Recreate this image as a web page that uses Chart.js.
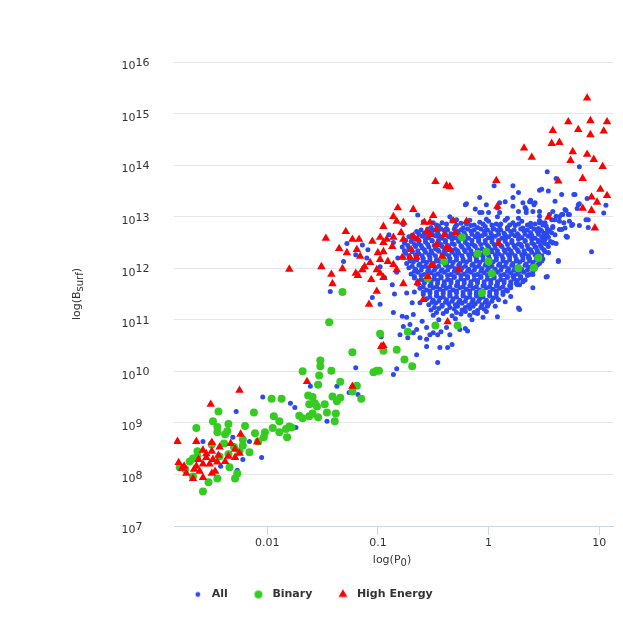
<!DOCTYPE html>
<html><head><meta charset="utf-8">
<script src="https://cdn.jsdelivr.net/npm/chart.js@4.4.1/dist/chart.umd.min.js"></script>
<style>html,body{margin:0;padding:0;background:#fff;overflow:hidden}canvas{display:block}</style>
</head><body>
<canvas id="c" width="623" height="623"></canvas>
<script>
// ---- data (log10 values: [log10 P0, log10 Bsurf]) ----
const seriesNames = ['All', 'Binary', 'High Energy'];
const xTickValues = [0.01, 0.1, 1, 10];
const xTickLabels = ['0.01', '0.1', '1', '10'];
const yTickValues = [1e7, 1e8, 1e9, 1e10, 1e11, 1e12, 1e13, 1e14, 1e15, 1e16];
const yTickExponents = ['7', '8', '9', '10', '11', '12', '13', '14', '15', '16'];

const allPts = [
[-0.42,12.88],[-0.33,12.92],[-0.25,12.87],[-0.17,12.93],[-0.08,12.89],[0.0,12.91],[0.07,12.86],[0.15,12.93],[0.22,12.88],[0.3,12.91],[0.38,12.87],[0.46,12.92],
[-0.47,12.84],[-0.38,12.86],[-0.29,12.84],[-0.2,12.86],[-0.13,12.84],[-0.05,12.86],[0.03,12.84],[0.11,12.86],[0.19,12.84],[0.27,12.86],[0.35,12.84],[0.42,12.86],[0.49,12.84],
[-0.52,12.79],[-0.45,12.82],[-0.38,12.77],[-0.3,12.81],[-0.23,12.78],[-0.16,12.83],[-0.1,12.79],[-0.03,12.81],[0.04,12.77],[0.1,12.82],[0.17,12.79],[0.24,12.83],[0.31,12.78],[0.38,12.81],[0.45,12.77],[0.52,12.82],
[-0.61,12.74],[-0.55,12.76],[-0.49,12.74],[-0.43,12.76],[-0.37,12.74],[-0.31,12.76],[-0.25,12.74],[-0.19,12.76],[-0.13,12.74],[-0.07,12.76],[-0.01,12.74],[0.05,12.76],[0.11,12.74],[0.17,12.76],[0.23,12.74],[0.29,12.76],[0.35,12.74],[0.41,12.76],[0.47,12.74],[0.53,12.76],
[-0.65,12.71],[-0.58,12.68],[-0.52,12.72],[-0.46,12.69],[-0.4,12.73],[-0.34,12.67],[-0.28,12.71],[-0.22,12.69],[-0.16,12.72],[-0.1,12.67],[-0.04,12.71],[0.02,12.69],[0.08,12.73],[0.14,12.68],[0.2,12.71],[0.26,12.67],[0.32,12.72],[0.38,12.69],[0.44,12.71],[0.5,12.68],[0.55,12.73],
[-0.69,12.64],[-0.63,12.66],[-0.57,12.64],[-0.51,12.66],[-0.45,12.64],[-0.39,12.66],[-0.33,12.64],[-0.27,12.66],[-0.21,12.64],[-0.15,12.66],[-0.09,12.64],[-0.03,12.66],[0.03,12.64],[0.09,12.66],[0.15,12.64],[0.21,12.66],[0.27,12.64],[0.33,12.66],[0.39,12.64],[0.45,12.66],[0.51,12.64],
[-0.72,12.61],[-0.66,12.58],[-0.6,12.62],[-0.54,12.59],[-0.48,12.63],[-0.42,12.58],[-0.36,12.61],[-0.3,12.59],[-0.24,12.62],[-0.18,12.58],[-0.12,12.61],[-0.06,12.63],[0.0,12.59],[0.06,12.62],[0.12,12.58],[0.18,12.61],[0.24,12.63],[0.3,12.59],[0.36,12.62],[0.42,12.58],[0.48,12.61],[0.54,12.6],
[-0.75,12.54],[-0.69,12.56],[-0.63,12.54],[-0.57,12.56],[-0.51,12.54],[-0.45,12.56],[-0.39,12.54],[-0.33,12.56],[-0.27,12.54],[-0.21,12.56],[-0.15,12.54],[-0.09,12.56],[-0.03,12.54],[0.03,12.56],[0.09,12.54],[0.15,12.56],[0.21,12.54],[0.27,12.56],[0.33,12.54],[0.39,12.56],[0.45,12.54],[0.51,12.56],
[-0.76,12.49],[-0.7,12.52],[-0.63,12.48],[-0.57,12.51],[-0.51,12.53],[-0.45,12.49],[-0.39,12.51],[-0.33,12.48],[-0.27,12.52],[-0.21,12.5],[-0.15,12.47],[-0.09,12.52],[-0.03,12.49],[0.03,12.51],[0.09,12.48],[0.15,12.52],[0.21,12.5],[0.27,12.47],[0.33,12.52],[0.39,12.49],[0.45,12.51],[0.51,12.48],[0.56,12.52],
[-0.73,12.44],[-0.67,12.46],[-0.61,12.44],[-0.55,12.46],[-0.49,12.44],[-0.43,12.46],[-0.37,12.44],[-0.31,12.46],[-0.25,12.44],[-0.19,12.46],[-0.13,12.44],[-0.07,12.46],[-0.01,12.44],[0.05,12.46],[0.11,12.44],[0.17,12.46],[0.23,12.44],[0.29,12.46],[0.35,12.44],[0.41,12.46],[0.47,12.44],[0.53,12.46],
[-0.78,12.41],[-0.72,12.38],[-0.66,12.42],[-0.6,12.39],[-0.54,12.41],[-0.48,12.38],[-0.42,12.42],[-0.36,12.4],[-0.3,12.37],[-0.24,12.41],[-0.18,12.39],[-0.12,12.42],[-0.06,12.38],[0.0,12.41],[0.06,12.39],[0.12,12.42],[0.18,12.38],[0.24,12.4],[0.3,12.42],[0.36,12.38],[0.42,12.41],[0.48,12.39],[0.54,12.42],
[-0.76,12.34],[-0.7,12.36],[-0.64,12.34],[-0.58,12.36],[-0.52,12.34],[-0.46,12.36],[-0.4,12.34],[-0.34,12.36],[-0.28,12.34],[-0.22,12.36],[-0.16,12.34],[-0.1,12.36],[-0.04,12.34],[0.02,12.36],[0.08,12.34],[0.14,12.36],[0.2,12.34],[0.26,12.36],[0.32,12.34],[0.38,12.36],[0.44,12.34],[0.5,12.36],
[-0.75,12.29],[-0.69,12.32],[-0.63,12.28],[-0.57,12.31],[-0.51,12.29],[-0.45,12.33],[-0.39,12.28],[-0.33,12.31],[-0.27,12.29],[-0.21,12.32],[-0.15,12.28],[-0.09,12.31],[-0.03,12.29],[0.03,12.32],[0.09,12.28],[0.15,12.31],[0.21,12.29],[0.27,12.32],[0.33,12.28],[0.39,12.31],[0.45,12.29],[0.51,12.32],
[-0.72,12.24],[-0.66,12.26],[-0.6,12.24],[-0.54,12.26],[-0.48,12.24],[-0.42,12.26],[-0.36,12.24],[-0.3,12.26],[-0.24,12.24],[-0.18,12.26],[-0.12,12.24],[-0.06,12.26],[0.0,12.24],[0.06,12.26],[0.12,12.24],[0.18,12.26],[0.24,12.24],[0.3,12.26],[0.36,12.24],[0.42,12.26],[0.48,12.24],
[-0.77,12.21],[-0.71,12.18],[-0.65,12.22],[-0.59,12.19],[-0.53,12.21],[-0.47,12.17],[-0.41,12.21],[-0.35,12.19],[-0.29,12.22],[-0.23,12.18],[-0.17,12.21],[-0.11,12.19],[-0.05,12.22],[0.01,12.18],[0.07,12.21],[0.13,12.19],[0.19,12.22],[0.25,12.18],[0.31,12.21],[0.37,12.19],[0.43,12.22],[0.49,12.18],
[-0.71,12.14],[-0.65,12.16],[-0.59,12.14],[-0.53,12.16],[-0.47,12.14],[-0.41,12.16],[-0.35,12.14],[-0.29,12.16],[-0.23,12.14],[-0.17,12.16],[-0.11,12.14],[-0.05,12.16],[0.01,12.14],[0.07,12.16],[0.13,12.14],[0.19,12.16],[0.25,12.14],[0.31,12.16],[0.37,12.14],[0.43,12.16],[0.48,12.14],
[-0.74,12.09],[-0.68,12.12],[-0.62,12.08],[-0.56,12.11],[-0.5,12.09],[-0.44,12.13],[-0.38,12.08],[-0.32,12.11],[-0.26,12.09],[-0.2,12.12],[-0.14,12.08],[-0.08,12.11],[-0.02,12.09],[0.04,12.12],[0.1,12.08],[0.16,12.11],[0.22,12.09],[0.28,12.12],[0.34,12.08],[0.4,12.11],[0.46,12.09],
[-0.69,12.04],[-0.63,12.06],[-0.57,12.04],[-0.51,12.06],[-0.45,12.04],[-0.39,12.06],[-0.33,12.04],[-0.27,12.06],[-0.21,12.04],[-0.15,12.06],[-0.09,12.04],[-0.03,12.06],[0.03,12.04],[0.09,12.06],[0.15,12.04],[0.21,12.06],[0.27,12.04],[0.33,12.06],[0.39,12.04],[0.44,12.06],
[-0.72,12.01],[-0.66,11.98],[-0.6,12.02],[-0.54,11.99],[-0.48,12.01],[-0.42,11.97],[-0.36,12.02],[-0.3,11.99],[-0.24,12.01],[-0.18,11.98],[-0.12,12.02],[-0.06,11.99],[0.0,12.01],[0.06,11.98],[0.12,12.02],[0.18,11.99],[0.24,12.01],[0.3,11.98],[0.36,12.02],[0.42,11.99],
[-0.67,11.94],[-0.61,11.96],[-0.55,11.94],[-0.49,11.96],[-0.43,11.94],[-0.37,11.96],[-0.31,11.94],[-0.25,11.96],[-0.19,11.94],[-0.13,11.96],[-0.07,11.94],[-0.01,11.96],[0.05,11.94],[0.11,11.96],[0.17,11.94],[0.23,11.96],[0.29,11.94],[0.35,11.96],[0.4,11.94],
[-0.7,11.89],[-0.64,11.92],[-0.58,11.88],[-0.52,11.91],[-0.46,11.89],[-0.4,11.92],[-0.34,11.88],[-0.28,11.91],[-0.22,11.89],[-0.16,11.92],[-0.1,11.88],[-0.04,11.91],[0.02,11.89],[0.08,11.92],[0.14,11.88],[0.2,11.91],[0.26,11.89],[0.32,11.92],[0.37,11.88],
[-0.67,11.84],[-0.61,11.86],[-0.55,11.84],[-0.49,11.86],[-0.43,11.84],[-0.37,11.86],[-0.31,11.84],[-0.25,11.86],[-0.19,11.84],[-0.13,11.86],[-0.07,11.84],[-0.01,11.86],[0.05,11.84],[0.11,11.86],[0.17,11.84],[0.23,11.86],[0.29,11.84],[0.35,11.86],
[-0.67,11.81],[-0.61,11.78],[-0.55,11.82],[-0.49,11.79],[-0.43,11.81],[-0.37,11.78],[-0.31,11.82],[-0.25,11.79],[-0.19,11.81],[-0.13,11.78],[-0.07,11.82],[-0.01,11.79],[0.05,11.81],[0.11,11.78],[0.17,11.82],[0.23,11.79],[0.29,11.81],[0.33,11.77],
[-0.64,11.74],[-0.58,11.76],[-0.52,11.74],[-0.46,11.76],[-0.4,11.74],[-0.34,11.76],[-0.28,11.74],[-0.22,11.76],[-0.16,11.74],[-0.1,11.76],[-0.04,11.74],[0.02,11.76],[0.08,11.74],[0.14,11.76],[0.2,11.74],[0.26,11.76],
[-0.64,11.69],[-0.58,11.72],[-0.52,11.68],[-0.46,11.71],[-0.4,11.69],[-0.34,11.72],[-0.28,11.68],[-0.22,11.71],[-0.16,11.69],[-0.1,11.72],[-0.04,11.68],[0.02,11.71],[0.08,11.69],[0.14,11.72],[0.2,11.68],[0.25,11.71],
[-0.59,11.64],[-0.53,11.66],[-0.47,11.64],[-0.41,11.66],[-0.35,11.64],[-0.29,11.66],[-0.23,11.64],[-0.17,11.66],[-0.11,11.64],[-0.05,11.66],[0.01,11.64],[0.07,11.66],[0.13,11.64],[0.19,11.66],
[-0.62,11.61],[-0.56,11.58],[-0.5,11.62],[-0.44,11.59],[-0.38,11.61],[-0.32,11.58],[-0.26,11.62],[-0.2,11.59],[-0.14,11.61],[-0.08,11.58],[-0.02,11.62],[0.04,11.59],[0.1,11.61],[0.16,11.58],[0.2,11.62],
[-0.59,11.54],[-0.53,11.56],[-0.47,11.54],[-0.41,11.56],[-0.35,11.54],[-0.29,11.56],[-0.23,11.54],[-0.17,11.56],[-0.11,11.54],[-0.05,11.56],[0.01,11.54],[0.07,11.56],[0.13,11.54],[0.17,11.56],
[-0.59,11.49],[-0.53,11.52],[-0.47,11.48],[-0.41,11.51],[-0.35,11.49],[-0.29,11.52],[-0.23,11.48],[-0.17,11.51],[-0.11,11.49],[-0.05,11.52],[0.01,11.48],[0.07,11.51],[0.13,11.49],
[-0.53,11.44],[-0.47,11.46],[-0.41,11.44],[-0.35,11.46],[-0.29,11.44],[-0.23,11.46],[-0.17,11.44],[-0.11,11.46],[-0.05,11.44],[0.01,11.46],[0.07,11.44],
[-0.56,11.41],[-0.5,11.38],[-0.44,11.42],[-0.38,11.39],[-0.32,11.41],[-0.26,11.38],[-0.2,11.42],[-0.14,11.39],[-0.08,11.41],[-0.02,11.38],[0.04,11.42],[0.09,11.39],
[-0.51,11.34],[-0.45,11.36],[-0.39,11.34],[-0.33,11.36],[-0.27,11.34],[-0.21,11.36],[-0.15,11.34],[-0.09,11.36],[-0.03,11.34],[0.03,11.36],
[-0.54,11.29],[-0.48,11.32],[-0.42,11.28],[-0.36,11.31],[-0.3,11.29],[-0.24,11.32],[-0.18,11.28],[-0.12,11.31],[-0.06,11.29],[0.0,11.31],
[-0.49,11.24],[-0.42,11.26],[-0.35,11.24],[-0.28,11.26],[-0.21,11.24],[-0.14,11.26],[-0.07,11.24],[-0.01,11.26],
[-0.52,11.19],[-0.45,11.22],[-0.38,11.18],[-0.31,11.21],[-0.24,11.19],[-0.17,11.22],[-0.1,11.18],[-0.04,11.21],
[-0.47,11.14],[-0.38,11.16],[-0.29,11.14],[-0.21,11.16],[-0.13,11.14],
[-0.5,11.09],[-0.41,11.12],[-0.33,11.08],[-0.25,11.11],[-0.17,11.09],[-0.1,11.12],
[0.05,13.6],[0.22,13.6],[0.27,13.47],[0.46,13.51],[0.53,13.87],[0.61,13.74],[0.54,13.5],[0.66,13.43],[0.78,13.43],[0.82,13.97],[0.89,13.35],[0.82,13.25],[0.8,13.16],[0.7,13.12],[0.67,13.04],[0.73,13.04],[0.64,13.0],[0.6,12.94],[0.75,12.83],[0.82,12.83],[0.88,12.94],[0.9,12.79],[0.6,12.65],[0.71,12.61],[0.93,12.32],[0.54,12.3],[0.61,12.48],[0.15,13.29],[0.22,13.37],[0.22,13.2],[0.31,13.27],[0.34,13.14],[0.38,13.29],[0.42,13.27],[0.4,13.1],[0.17,12.97],[0.27,12.97],[0.48,12.88],[0.57,12.94],[0.68,12.88],[0.58,12.79],[0.64,12.75],[0.53,12.69],[0.49,12.56],[0.58,12.5],[0.71,12.6],[0.63,12.13],[0.53,11.84],[0.4,11.62],[0.28,11.68],[0.22,11.84],[1.06,13.22],[1.04,13.07],
[0.77,13.43],[0.48,13.53],[0.38,13.32],[0.41,13.23],[0.33,13.18],[0.34,13.08],[0.6,13.3],[0.69,13.14],[0.66,13.04],[0.61,13.01],[0.72,13.04],[0.64,12.91],[0.73,12.91],[0.76,12.85],[0.81,13.23],[0.9,12.94],[0.69,12.78],[0.66,12.75],[0.7,12.62],[0.58,12.81],[0.57,12.69],[0.52,12.62],[0.48,12.72],[0.49,12.52],[0.58,12.49],[0.43,12.4],[0.54,12.3],[0.63,12.15],[0.36,12.2],[0.4,11.88],[0.52,11.83],[0.46,13.01],[0.46,12.88],[0.51,12.88],[0.55,13.04],[0.58,13.1],
[-0.08,13.37],[-0.21,13.23],[-0.08,13.08],[0.0,13.08],[0.08,13.17],[0.08,13.0],[-0.02,12.95],[-0.35,13.0],[-0.59,12.9],[-0.64,13.03],[-0.2,13.25],[0.37,13.29],[0.46,13.1],[0.1,13.27],[-0.02,13.23],[-0.06,13.08],[0.1,13.08],[-0.29,12.94],[-0.5,12.88],[-0.12,13.15],[0.27,13.1],
[-1.28,12.48],[-1.31,12.13],[-1.09,12.36],[-0.98,12.03],[-0.86,12.5],[-0.77,12.85],[-1.43,11.55],[-1.05,11.43],[-0.98,11.3],[-0.87,11.68],[-0.94,11.82],[-0.83,11.92],[-0.86,11.14],[-0.78,11.07],[-1.14,12.45],[-1.2,12.26],[-0.82,12.2],[-0.85,11.5],[-0.9,12.65],[-1.1,12.2],
[-0.74,11.05],[-0.68,11.1],[0.08,11.06],[-0.02,11.16],[0.06,11.26],[-0.77,10.87],[-0.71,10.91],[-0.65,10.81],[-0.56,10.85],[-0.5,10.75],[-0.38,10.85],[-0.26,10.81],[-0.21,10.83],[-0.19,10.78],[-0.43,10.77],[-0.8,10.71],[-0.73,10.65],[-0.62,10.65],[-0.68,10.75],[-0.56,10.62],[-0.53,10.71],[-0.46,10.71],[-0.35,10.71],[-0.56,10.48],[-0.44,10.46],[-0.37,10.46],[-0.33,10.52],[-0.65,10.32],[-0.46,10.17],[0.28,11.2],[0.26,11.68],[0.31,11.74],[0.27,11.23],[-0.67,11.54],[-0.69,11.33],[-0.62,11.33],[-0.74,11.52],[-0.97,10.67],[-0.45,11.0],[-0.3,11.02],[-0.15,11.0],[-0.6,10.97],[-0.05,11.05],[0.15,11.35],[0.2,11.45],
[-1.24,10.38],[-1.2,10.07],[-0.83,10.05],[-0.86,9.94],[-1.37,9.71],[-1.26,9.59],[-1.18,9.55],[-1.61,9.71],[-1.46,9.03],[-1.75,9.3],[-1.79,9.38],[-2.04,9.5],[-1.74,8.91],[-2.28,9.22],[-2.31,8.72],[-2.16,8.64],[-2.58,8.64],[-2.22,8.29],[-2.05,8.33],[-2.27,8.08],[-2.42,8.16]
];

const binaryPts = [
[-2.44,9.22],[-1.96,9.47],[-1.87,9.47],[-2.49,9.03],[-2.12,9.2],[-1.94,9.13],[-1.89,9.03],[-2.64,8.9],[-2.45,8.92],[-2.35,8.98],[-2.2,8.94],[-1.95,8.9],[-1.83,8.88],[-2.45,8.82],[-2.36,8.84],[-2.38,8.78],[-2.11,8.8],[-2.02,8.82],[-1.89,8.82],[-2.03,8.72],[-2.08,8.64],[-2.22,8.68],[-1.82,8.72],[-2.22,8.56],[-2.16,8.43],[-2.25,8.45],[-2.3,8.53],[-2.39,8.6],[-2.5,8.58],[-2.63,8.45],[-2.67,8.31],[-2.7,8.25],[-2.63,8.35],[-2.43,8.35],[-2.35,8.39],[-2.34,8.14],[-2.27,8.02],[-2.29,7.92],[-2.45,7.92],[-2.53,7.85],[-2.58,7.67],[-2.67,7.96],[-2.74,8.1],[-2.79,8.14],
[-1.32,11.54],[-1.44,10.95],[-0.98,10.73],[-0.95,10.4],[-0.83,10.42],[-1.23,10.37],[-0.76,10.23],[-0.69,10.1],[-1.52,10.21],[-1.52,10.1],[-1.68,10.0],[-1.42,10.01],[-1.04,9.98],[-1.01,10.01],[-0.99,10.01],[-1.53,9.92],[-1.34,9.8],[-1.54,9.74],[-1.19,9.72],[-1.23,9.61],[-1.15,9.47],[-1.63,9.53],[-1.59,9.5],[-1.57,9.38],[-1.62,9.36],[-1.55,9.32],[-1.41,9.51],[-1.34,9.49],[-1.37,9.42],[-1.48,9.36],[-1.46,9.2],[-1.38,9.18],[-1.59,9.18],[-1.62,9.13],[-1.54,9.11],[-1.68,9.09],[-1.71,9.14],[-1.39,9.03],[-1.8,8.93],[-1.78,8.91],
[-0.24,12.6],[-0.1,12.28],[-0.02,12.32],[0.0,12.13],[0.03,11.9],[-0.06,11.52],[-0.4,12.13],[-0.55,11.8],[-0.48,10.89],[-0.28,10.89],[0.45,12.2],[0.27,12.0],[0.41,12.01],[-0.73,10.77]
];

const highEnergyPts = [
[0.89,15.3],[0.72,14.84],[0.92,14.86],[1.07,14.84],[0.58,14.67],[0.81,14.69],[1.04,14.66],[0.92,14.59],[0.57,14.42],[0.64,14.44],[0.32,14.33],[0.39,14.15],[0.76,14.26],[0.74,14.09],[0.89,14.21],[0.95,14.11],[1.03,13.97],[0.85,13.74],[0.63,13.69],[1.01,13.53],[1.07,13.41],[0.93,13.38],[0.98,13.28],[0.85,13.16],[0.93,13.12],[0.54,12.99],[0.96,12.78],
[-0.48,13.68],[-0.38,13.6],[-0.35,13.58],[0.07,13.7],[0.08,13.2],[-0.82,13.17],[-0.68,13.14],[-0.86,13.0],[-0.95,12.81],[-0.83,12.91],[-0.77,12.89],[-0.5,13.02],[-0.58,12.89],[-0.53,12.89],[-0.32,12.92],[-0.2,12.91],
[-1.29,12.71],[-1.47,12.58],[-1.35,12.38],[-1.28,12.3],[-1.23,12.56],[-1.17,12.56],[-1.19,12.36],[-1.16,12.23],[-1.05,12.52],[-0.98,12.6],[-0.95,12.5],[-0.92,12.56],[-1.0,12.3],[-0.95,12.32],[-0.87,12.42],[-0.86,12.6],[-0.79,12.69],[-0.77,12.56],[-0.7,12.36],[-0.68,12.62],[-0.64,12.56],[-0.56,12.71],[-0.53,12.65],[-0.47,12.75],[-0.4,12.65],[-0.3,12.69],[-0.47,12.46],[-0.38,12.4],[-0.35,12.36],[-0.42,12.23],[0.09,12.48],
[-1.51,12.03],[-1.42,11.88],[-1.41,11.7],[-1.32,11.99],[-1.2,11.9],[-1.18,11.86],[-1.06,11.78],[-0.98,11.9],[-0.95,11.82],[-1.01,11.55],[-1.08,11.3],[-0.77,11.7],[-0.64,11.72],[-0.55,11.84],[-0.52,12.05],[-0.5,12.05],[-0.83,11.97],[-0.91,12.13],[-0.78,12.21],[-0.71,12.21],[-0.65,12.21],[-1.07,12.11],[-1.12,12.03],[-0.98,12.17],[-0.86,12.07],[-1.14,11.97],[-1.01,11.97],[-0.27,11.97],[-0.59,11.39],[-0.37,10.96],[-0.95,10.5],[-0.97,10.48],[-1.8,11.98],
[-1.64,9.8],[-1.23,9.71],[-2.09,8.63],
[-2.25,9.63],[-2.51,9.36],[-2.81,8.64],[-2.24,8.78],[-2.64,8.64],[-2.5,8.62],[-2.58,8.47],[-2.43,8.53],[-2.33,8.6],[-2.29,8.49],[-2.25,8.41],[-2.29,8.33],[-2.35,8.35],[-2.44,8.37],[-2.49,8.29],[-2.55,8.33],[-2.52,8.2],[-2.45,8.24],[-2.58,8.2],[-2.64,8.16],[-2.62,8.29],[-2.66,8.1],[-2.61,8.06],[-2.8,8.23],[-2.75,8.16],[-2.73,8.02],[-2.67,7.92],[-2.58,7.94],[-2.5,8.02],[-2.47,8.06],[-2.77,8.12],[-2.5,8.45],[-2.38,8.25],[-2.55,8.4]
];

// ---- rendering ----
const FONT = '"DejaVu Sans", sans-serif';
const TEXT = '#333333';
const colors = ['#2c48f0', '#35cc22', '#ff0000'];
const toXY = pts => pts.map(([p, b]) => ({x: Math.pow(10, p), y: Math.pow(10, b)}));

function makeIcon(kind, color) {
  const c = document.createElement('canvas');
  c.width = 20; c.height = 14;
  const g = c.getContext('2d');
  g.fillStyle = color;
  const cx = 7, cy = 7;
  g.beginPath();
  if (kind === 'dot') g.arc(cx, cy, 2.4, 0, Math.PI * 2);
  else if (kind === 'circle') g.arc(cx, cy, 4, 0, Math.PI * 2);
  else { const r = 5.2; g.moveTo(cx, cy - r); g.lineTo(cx + r * 0.866, cy + r * 0.5); g.lineTo(cx - r * 0.866, cy + r * 0.5); g.closePath(); }
  g.fill();
  return c;
}
const legendIcons = [makeIcon('dot', colors[0]), makeIcon('circle', colors[1]), makeIcon('tri', colors[2])];

function drawParts(ctx, parts, cx, cy, rot) {
  ctx.save();
  ctx.translate(cx, cy);
  ctx.rotate(rot);
  let total = 0;
  parts.forEach(p => { ctx.font = p.size + 'px ' + FONT; p.w = ctx.measureText(p.t).width; total += p.w; });
  let x = -total / 2;
  ctx.textBaseline = 'middle';
  ctx.textAlign = 'left';
  ctx.fillStyle = TEXT;
  parts.forEach(p => { ctx.font = p.size + 'px ' + FONT; ctx.fillText(p.t, x, p.dy); x += p.w; });
  ctx.restore();
}

const textPlugin = {
  id: 'textPlugin',
  beforeDraw(chart) {
    if (chart.legend) { chart.legend.left = 0; chart.legend.right = 628; }
  },
  afterDraw(chart) {
    const ctx = chart.ctx;
    const ys = chart.scales.y, area = chart.chartArea;
    ctx.save();
    ctx.fillStyle = TEXT;
    ctx.textBaseline = 'middle';
    ctx.textAlign = 'left';
    yTickValues.forEach((v, i) => {
      const py = ys.getPixelForValue(v);
      ctx.font = '11px ' + FONT;
      const w1 = ctx.measureText('10').width;
      const x0 = 121.5;
      ctx.fillText('10', x0, py + 4.5);
      ctx.fillText(yTickExponents[i], x0 + w1, py + 1.2);
    });
    ctx.restore();
    drawParts(ctx, [{t: 'log(B', size: 11, dy: 0}, {t: 'surf', size: 10, dy: 3}, {t: ')', size: 11, dy: 0}],
      77.5, (area.top + area.bottom) / 2, -Math.PI / 2);
    drawParts(ctx, [{t: 'log(P', size: 11, dy: 0}, {t: '0', size: 10, dy: 2.5}, {t: ')', size: 11, dy: 0}],
      (area.left + area.right) / 2 - 1.5, 560.5, 0);
  }
};

new Chart(document.getElementById('c'), {
  type: 'scatter',
  data: {
    datasets: [
      {label: seriesNames[0], data: toXY(allPts), pointStyle: 'circle', pointRadius: 2.5, backgroundColor: colors[0], borderWidth: 0, order: 3},
      {label: seriesNames[1], data: toXY(binaryPts), pointStyle: 'circle', pointRadius: 4, backgroundColor: colors[1], borderWidth: 0, order: 2},
      {label: seriesNames[2], data: toXY(highEnergyPts), pointStyle: 'triangle', pointRadius: 4.9, backgroundColor: colors[2], borderWidth: 0, order: 1}
    ]
  },
  options: {
    responsive: false,
    animation: false,
    events: [],
    layout: {padding: {top: 62, left: 0, right: 10, bottom: 13}},
    scales: {
      x: {
        type: 'logarithmic', bounds: 'data', min: 0.00144, max: 13.3,
        afterBuildTicks: s => { s.ticks = xTickValues.map(v => ({value: v})); },
        afterFit: s => { s.height = 35; },
        ticks: {callback: (v) => xTickLabels[xTickValues.indexOf(v)] ?? '', font: {family: FONT, size: 11}, color: TEXT, padding: 2, maxRotation: 0, autoSkip: false},
        grid: {drawOnChartArea: false, drawTicks: true, tickLength: 9, color: '#ccd6eb', lineWidth: 1},
        border: {color: '#ccd6eb', width: 1},
        title: {display: false}
      },
      y: {
        type: 'logarithmic', bounds: 'data', min: 1e7, max: 1e16,
        afterBuildTicks: s => { s.ticks = yTickValues.map(v => ({value: v})); },
        afterFit: s => { s.width = 174; },
        ticks: {display: false},
        grid: {color: '#e6e6e6', lineWidth: 1, drawTicks: false},
        border: {display: false},
        title: {display: false}
      }
    },
    plugins: {
      tooltip: {enabled: false},
      legend: {
        position: 'bottom',
        labels: {
          usePointStyle: true,
          padding: 28,
          color: TEXT,
          font: {family: FONT, size: 11, weight: 'bold'},
          generateLabels: chart => chart.data.datasets.map((d, i) => ({
            text: d.label, datasetIndex: i, pointStyle: legendIcons[i],
            fillStyle: colors[i], strokeStyle: 'rgba(0,0,0,0)', lineWidth: 0, hidden: false, fontColor: TEXT
          }))
        }
      }
    }
  },
  plugins: [textPlugin]
});
</script>
</body></html>
